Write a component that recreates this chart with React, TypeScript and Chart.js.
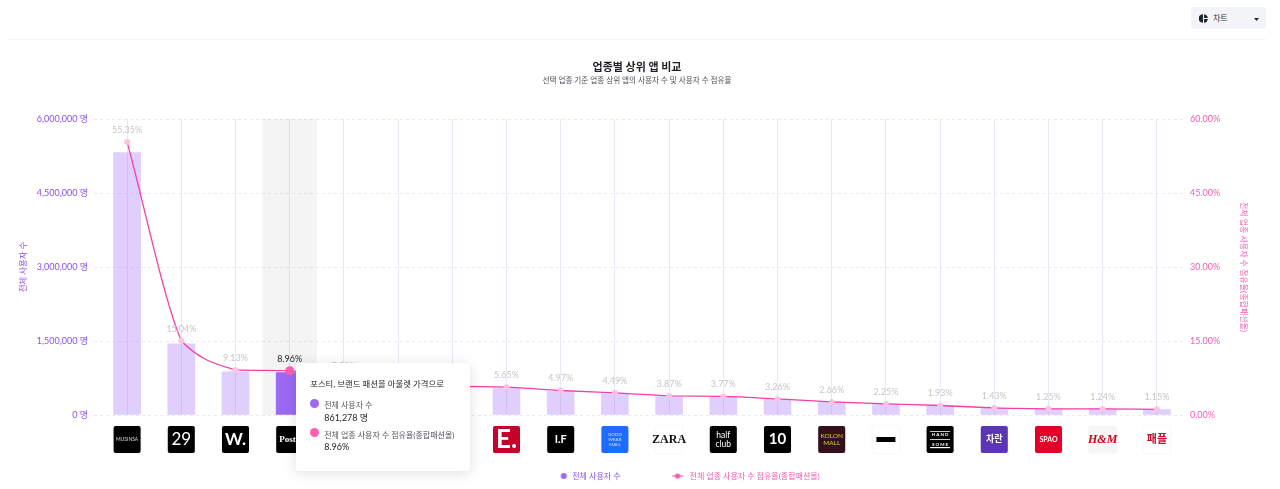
import React, { useEffect, useRef } from "react";
import { Chart, registerables } from "chart.js";

Chart.register(...registerables);

const FONT = "Lato, 'Noto Sans CJK KR', sans-serif";

const categories = ["무신사", "29CM", "W컨셉", "포스티", "에이블리", "지그재그", "SSF샵", "EQL", "LF몰", "굿웨어몰", "자라", "하프클럽", "텐바이텐", "코오롱몰", "블랙", "더한섬닷컴", "차란", "스파오", "H&M", "패플"];
const activeUsers = [5320000, 1445000, 877000, 861278, 720000, 640000, 565000, 543000, 478000, 431000, 372000, 362000, 313000, 256000, 216000, 185000, 137000, 120000, 119000, 110000];
const shareRates = [55.35, 15.04, 9.13, 8.96, 7.5, 6.66, 5.88, 5.65, 4.97, 4.49, 3.87, 3.77, 3.26, 2.66, 2.25, 1.93, 1.43, 1.25, 1.24, 1.15];
const logoTexts = ["MUSINSA", "29", "W.", "Posty", "", "", "", "E.", "I.F", "GOOD\nWEAR\nMALL", "ZARA", "half\nclub", "10", "KOLON\nMALL", "", "H A N D\nS O M E", "차란", "SPAO", "H&M", "패플"];
const logoBacks = ["#000", "#000", "#000", "#000", "#eee", "#eee", "#eee", "#C4002B", "#000", "#1E6BFF", "#fff", "#000", "#000", "#33101E", "#fff", "#000", "#5B35B5", "#E4002B", "#F6F6F6", "#fff"];
const logoColors = ["#ddd", "#fff", "#fff", "#fff", "#fff", "#fff", "#fff", "#fff", "#fff", "#cfe0ff", "#111", "#fff", "#fff", "#D8D02A", "#000", "#fff", "#fff", "#fff", "#D0021B", "#C8102E"];
const logoFonts = ["5px", "17px", "bold 17px", "bold 9px", "8px", "8px", "8px", "bold 26px", "bold 11px", "4.5px", "bold 12px", "8.5px", "bold 15px", "6.5px", "6px", "bold 4.5px", "bold 9px", "bold 7px", "italic bold 12px", "bold 11px"];
const logoFamilies = [FONT, FONT, FONT, "'Liberation Serif'", FONT, FONT, FONT, FONT, FONT, FONT, "'Liberation Serif'", FONT, FONT, FONT, FONT, FONT, FONT, FONT, "'Liberation Serif'", FONT];

const ACTIVE = 3;
const tooltipTitle = "포스티, 브랜드 패션을 아울렛 가격으로";
const userLabel = "전체 사용자 수";
const rateLabel = "전체 업종 사용자 수 점유율(종합패션몰)";

const PURPLE = "#8B52EA";
const PINK = "#F45CB0";

function makeLegendIcon(kind: "dot" | "line", color: string) {
  const c = document.createElement("canvas");
  c.width = 14;
  c.height = 10;
  const g = c.getContext("2d")!;
  g.fillStyle = color;
  g.strokeStyle = color;
  if (kind === "dot") {
    g.beginPath();
    g.arc(9.5, 5, 3, 0, Math.PI * 2);
    g.fill();
  } else {
    g.beginPath();
    g.moveTo(0, 5);
    g.lineTo(12, 5);
    g.stroke();
    g.beginPath();
    g.arc(6, 5, 2.6, 0, Math.PI * 2);
    g.fill();
  }
  return c;
}

const bandPlugin = {
  id: "band",
  beforeDatasetsDraw(chart: any) {
    const { ctx, chartArea, scales } = chart;
    const cx = scales.x.getPixelForValue(ACTIVE);
    const w = scales.x.width / categories.length;
    ctx.save();
    ctx.fillStyle = "rgba(0,0,0,0.045)";
    ctx.fillRect(cx - w / 2, chartArea.top, w, chartArea.bottom - chartArea.top);
    ctx.restore();
  },
};

// Monotone curve whose incoming tangent leans towards the chord, which keeps the sharp bend at the second point.
const curvePlugin = {
  id: "curve",
  beforeDatasetsDraw(chart: any) {
    const meta = chart.getDatasetMeta(0);
    const pts = meta.data;
    const n = pts.length;
    const slope = (a: any, b: any) => (b.y - a.y) / (b.x - a.x);
    const t: number[] = [];
    for (let i = 1; i < n - 1; i++) {
      const s0 = slope(pts[i - 1], pts[i]);
      const s1 = slope(pts[i], pts[i + 1]);
      const p = (s0 + s1) / 2;
      t[i] = (Math.sign(s0) + Math.sign(s1)) * Math.min(Math.abs(s0), Math.abs(s1), 0.5 * Math.abs(p));
    }
    t[0] = slope(pts[0], pts[1]);
    t[n - 1] = slope(pts[n - 2], pts[n - 1]);
    pts.forEach((pt: any, i: number) => {
      const h = (i < n - 1 ? pts[i + 1].x - pt.x : pt.x - pts[i - 1].x) / 3;
      const tIn = i > 0 ? (t[i] + slope(pts[i - 1], pt)) / 2 : t[i];
      pt.cp1x = pt.x - h;
      pt.cp1y = pt.y - h * tIn;
      pt.cp2x = pt.x + h;
      pt.cp2y = pt.y + h * t[i];
    });
    meta.dataset._pointsUpdated = true;
  },
};

const labelPlugin = {
  id: "pointLabels",
  afterDatasetsDraw(chart: any) {
    const { ctx, scales } = chart;
    ctx.save();
    ctx.textAlign = "center";
    ctx.textBaseline = "middle";
    shareRates.forEach((v, i) => {
      ctx.font = `9px ${FONT}`;
      ctx.fillStyle = i === ACTIVE ? "#222" : "#C6C6C6";
      ctx.fillText(v.toFixed(2) + "%", scales.x.getPixelForValue(i), scales.y1.getPixelForValue(v) - 12);
    });
    ctx.restore();
  },
};

const logoPlugin = {
  id: "logos",
  afterDraw(chart: any) {
    const { ctx, scales } = chart;
    const size = 27;
    const top = 426;
    categories.forEach((_, i) => {
      const cx = scales.x.getPixelForValue(i);
      const x = cx - size / 2;
      ctx.save();
      ctx.shadowColor = "rgba(0,0,0,0.10)";
      ctx.shadowBlur = 2;
      ctx.fillStyle = logoBacks[i];
      ctx.beginPath();
      ctx.roundRect(x, top, size, size, 2);
      ctx.fill();
      ctx.restore();
      ctx.save();
      ctx.fillStyle = logoColors[i];
      ctx.textAlign = "center";
      ctx.textBaseline = "middle";
      ctx.font = `${logoFonts[i]} ${logoFamilies[i]}`;
      const lines = logoTexts[i].split("\n");
      const size2 = parseFloat(logoFonts[i].replace(/[^0-9.]/g, ""));
      const lh = size2 * (i === 15 ? 2.2 : 1.08);
      lines.forEach((t, k) => {
        ctx.fillText(t, cx, top + size / 2 + (k - (lines.length - 1) / 2) * lh);
      });
      if (i === 14) ctx.fillRect(cx - 9.5, top + 11, 19, 5);
      if (i === 15) {
        ctx.fillStyle = "#fff";
        ctx.fillRect(cx - 10, top + 5, 20, 0.8);
        ctx.fillRect(cx - 10, top + 13, 20, 0.8);
        ctx.fillRect(cx - 10, top + 21, 20, 1.2);
      }
      ctx.restore();
    });
  },
};

const boxMovePlugin = {
  id: "boxMove",
  afterLayout(chart: any) {
    const l = chart.legend;
    l.left += 47;
    l.right += 47;
    l.top = 421;
    l.bottom = l.top + l.height;
    l.adjustHitBoxes && l.adjustHitBoxes();
    chart.boxes.forEach((b: any) => {
      if (b.position === "top" && b.options && b.options.text) {
        b.left -= 3;
        b.right -= 3;
      }
    });
  },
};

export default function App() {
  const canvasRef = useRef<HTMLCanvasElement>(null);
  const tipRef = useRef<HTMLDivElement>(null);

  useEffect(() => {
    const chart = new Chart(canvasRef.current!, {
      data: {
        labels: categories,
        datasets: [
          {
            type: "line" as const,
            label: rateLabel,
            data: shareRates,
            yAxisID: "y1",
            order: 1,
            borderColor: "#F23FA5",
            borderWidth: 1.3,
            cubicInterpolationMode: "monotone" as const,
            pointRadius: (c: any) => (c.dataIndex === ACTIVE ? 4.5 : 3),
            pointBackgroundColor: (c: any) => (c.dataIndex === ACTIVE ? "#FF5FB0" : "#FBC4E2"),
            pointBorderWidth: 0,
          },
          {
            type: "bar" as const,
            label: userLabel,
            data: activeUsers,
            yAxisID: "y",
            order: 2,
            barThickness: 27,
            backgroundColor: (c: any) => (c.dataIndex === ACTIVE ? "#9B69F2" : "rgba(160,110,245,0.33)"),
          },
        ],
      },
      options: {
        responsive: false,
        animation: false,
        events: [],
        layout: { padding: 0 },
        scales: {
          x: {
            type: "category",
            offset: true,
            grid: { offset: false, color: "#E9E7F3", lineWidth: 1, drawTicks: false },
            border: { display: false },
            ticks: { display: false },
            afterFit(s: any) {
              s.height = 5;
            },
          },
          y: {
            position: "left",
            min: 0,
            max: 6000000,
            afterFit(s: any) {
              s.width = 100;
            },
            grid: { color: "#ECEAF6", tickColor: "#ECEAF6", tickLength: 6, tickBorderDash: [3, 3], lineWidth: 1 },
            border: { display: false, dash: [3, 3] },
            ticks: {
              stepSize: 1500000,
              padding: 6,
              color: PURPLE,
              font: { family: FONT, size: 9 },
              callback: (v: any) => Number(v).toLocaleString("en-US") + " 명",
            },
            title: {
              display: true,
              text: userLabel,
              color: PURPLE,
              font: { family: FONT, size: 8.4 },
              padding: { top: 18, bottom: 0 },
            },
          },
          y1: {
            position: "right",
            min: 0,
            max: 60,
            afterFit(s: any) {
              s.width = 96;
            },
            grid: { drawOnChartArea: false, drawTicks: false },
            border: { display: false },
            ticks: {
              stepSize: 15,
              padding: 6,
              color: PINK,
              font: { family: FONT, size: 9 },
              callback: (v: any) => Number(v).toFixed(2) + "%",
            },
            title: {
              display: true,
              text: rateLabel,
              color: PINK,
              font: { family: FONT, size: 8 },
              padding: { top: 32, bottom: 0 },
            },
          },
        },
        plugins: {
          tooltip: { enabled: false },
          title: {
            display: true,
            text: "업종별 상위 앱 비교",
            color: "#1F1F24",
            font: { family: FONT, size: 11, weight: "bold" },
            padding: { top: 60.4, bottom: 0 },
          },
          subtitle: {
            display: true,
            text: "선택 업종 기준 업종 상위 앱의 사용자 수 및 사용자 수 점유율",
            color: "#4F4F5A",
            font: { family: FONT, size: 7.6 },
            padding: { top: 2.84, bottom: 33.44 },
          },
          legend: {
            position: "bottom",
            labels: {
              usePointStyle: true,
              pointStyleWidth: 14,
              padding: 51,
              font: { family: FONT, size: 8 },
              generateLabels: () => [
                {
                  text: userLabel,
                  fontColor: PURPLE,
                  pointStyle: makeLegendIcon("dot", "#9B69F2"),
                  datasetIndex: 1,
                  lineWidth: 0,
                },
                {
                  text: rateLabel,
                  fontColor: PINK,
                  pointStyle: makeLegendIcon("line", PINK),
                  datasetIndex: 0,
                  lineWidth: 0,
                },
              ],
            },
          },
        },
      } as any,
      plugins: [bandPlugin, curvePlugin, labelPlugin, logoPlugin, boxMovePlugin],
    } as any);

    if (tipRef.current) {
      tipRef.current.style.left = chart.scales.x.getPixelForValue(ACTIVE) + 6.5 + "px";
    }
    return () => chart.destroy();
  }, []);

  const dot = (color: string, top: number) => (
    <span style={{ position: "absolute", left: 14, top, width: 9, height: 9, borderRadius: "50%", background: color }} />
  );
  const line = (text: string, top: number, color: string, left = 28, size = 8) => (
    <span style={{ position: "absolute", left, top, fontSize: size, lineHeight: "12px", color, whiteSpace: "nowrap" }}>{text}</span>
  );

  return (
    <div style={{ position: "fixed", left: 0, top: 0, width: 1280, height: 489, background: "#fff", overflow: "hidden", fontFamily: FONT }}>
      <canvas ref={canvasRef} width={1280} height={489} style={{ position: "absolute", left: 0, top: 0, display: "block" }} />
      <div style={{ position: "absolute", left: 8, top: 39, width: 1258, height: 1, background: "#F5F5FA" }} />
      <div style={{ position: "absolute", left: 1191, top: 7, width: 75, height: 22, background: "#F3F4F8", borderRadius: 3 }}>
        <svg width="9" height="9" viewBox="0 0 10 10" style={{ position: "absolute", left: 8, top: 6.5 }}>
          <path d="M4.4 0.2 A4.8 4.8 0 1 0 4.4 9.8 Z M5.6 0.2 V4.4 H9.8 A4.8 4.8 0 0 0 5.6 0.2 Z M5.6 5.6 V9.8 A4.8 4.8 0 0 0 9.8 5.6 Z" fill="#22242c" />
        </svg>
        <span style={{ position: "absolute", left: 22, top: 5, fontSize: 8, lineHeight: "12px", color: "#33343c" }}>차트</span>
        <svg width="5" height="3" viewBox="0 0 5 3" style={{ position: "absolute", left: 63, top: 11 }}>
          <path d="M0 0 H5 L2.5 3 Z" fill="#22242c" />
        </svg>
      </div>
      <div
        ref={tipRef}
        style={{ position: "absolute", left: 296, top: 363, width: 174, height: 108, background: "#fff", borderRadius: 3, boxShadow: "0 2px 14px rgba(0,0,0,0.13)" }}
      >
        {line(tooltipTitle, 15, "#26262c", 14, 8.4)}
        {dot("#9B69F2", 36)}
        {line(userLabel, 36, "#55555c")}
        {line(activeUsers[ACTIVE].toLocaleString("en-US") + " 명", 49, "#26262c", 28, 9)}
        {dot("#FF5FB0", 65)}
        {line(rateLabel, 66, "#55555c")}
        {line(shareRates[ACTIVE].toFixed(2) + "%", 78, "#26262c", 28, 9)}
      </div>
    </div>
  );
}
